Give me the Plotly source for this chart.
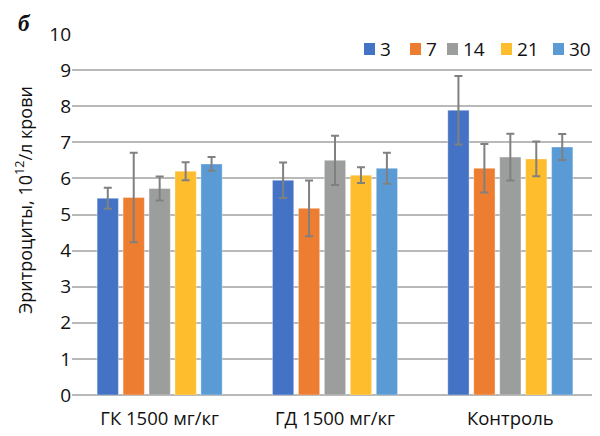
import plotly.graph_objects as go

groups = ["ГК 1500 мг/кг", "ГД 1500 мг/кг", "Контроль"]
series = ["3", "7", "14", "21", "30"]
colors = ["#4472c4", "#ed7d31", "#9c9e9e", "#fdbd2c", "#5b9bd5"]

values = {
    "3":  [5.45, 5.95, 7.89],
    "7":  [5.47, 5.17, 6.28],
    "14": [5.72, 6.50, 6.59],
    "21": [6.20, 6.09, 6.54],
    "30": [6.40, 6.28, 6.87],
}
errors = {
    "3":  [0.29, 0.49, 0.95],
    "7":  [1.24, 0.77, 0.67],
    "14": [0.33, 0.68, 0.65],
    "21": [0.25, 0.22, 0.48],
    "30": [0.19, 0.43, 0.36],
}

FONT = "Open Sans"
OFF = 8  # default page body margin
W, H = 600 - OFF, 436 - OFF
# plot area in screen pixels: x 72..598, y 34..395
ML = 72 - OFF
MT = 34 - OFF
MR = W - (598 - OFF)
MB = H - (395 - OFF)
PW, PH = W - ML - MR, H - MT - MB

def px(x):
    return (x - OFF - ML) / PW

def py(y):
    return (H - MB - (y - OFF)) / PH

fig = go.Figure()
for s, c in zip(series, colors):
    fig.add_trace(go.Bar(
        x=groups, y=values[s], name=s, showlegend=False,
        marker=dict(color=c, line=dict(color="rgba(255,255,255,0.35)", width=1)),
        error_y=dict(type="data", array=errors[s], visible=True,
                     color="#808080", thickness=2, width=4),
    ))

fig.update_layout(
    width=W, height=H,
    margin=dict(l=ML, r=MR, t=MT, b=MB, autoexpand=False),
    paper_bgcolor="white", plot_bgcolor="white",
    barmode="group", bargap=0.26, bargroupgap=0.18,
    font=dict(family=FONT, size=18, color="#111111"),
    showlegend=False,
    xaxis=dict(showgrid=False, showline=False, ticks="outside", ticklen=7,
               tickcolor="rgba(0,0,0,0)", tickfont=dict(size=18.5), automargin=False),
    yaxis=dict(range=[0, 10], dtick=1, showgrid=True, gridcolor="#b9b9b9", gridwidth=1.5,
               zeroline=True, zerolinecolor="#b9b9b9", zerolinewidth=1.5,
               showline=False, ticks="", tickfont=dict(size=19), automargin=False),
)

# Legend (manual, to match spacing)
leg_x = [364, 410, 447, 501, 553]
for s, c, x0 in zip(series, colors, leg_x):
    fig.add_shape(type="rect", xref="paper", yref="paper",
                  x0=px(x0), x1=px(x0 + 11), y0=py(55), y1=py(43),
                  fillcolor=c, line=dict(width=0))
    fig.add_annotation(text=s, xref="paper", yref="paper",
                       x=px(x0 + 14), y=py(49), xanchor="left", yanchor="middle",
                       showarrow=False, font=dict(size=19, color="#111111"))

# Y axis title
fig.add_annotation(text="Эритроциты, 10<sup>12</sup>/л крови", xref="paper", yref="paper",
                   x=px(24), y=py(200), xanchor="center", yanchor="middle",
                   textangle=-90, showarrow=False, font=dict(size=18, color="#111111"))

fig.add_annotation(text="<b><i>б</i></b>", xref="paper", yref="paper",
                   x=px(16), y=py(9), xanchor="left", yanchor="top", showarrow=False,
                   font=dict(family="Liberation Serif", size=23, color="#111111"))

fig.write_html("out.html")
